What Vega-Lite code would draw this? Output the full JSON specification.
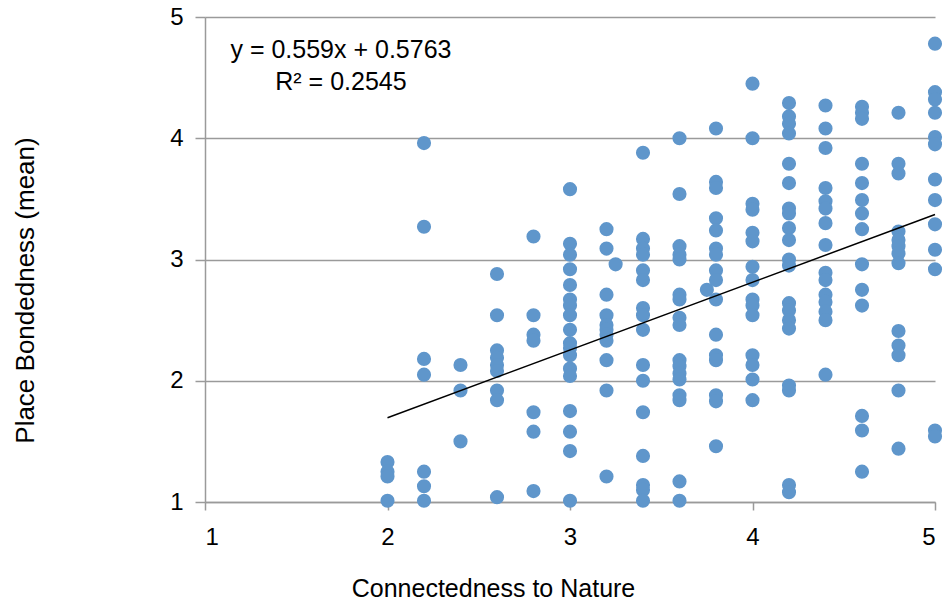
{
  "$schema": "https://vega.github.io/schema/vega-lite/v6.json",
  "width": 730,
  "height": 485,
  "autosize": "none",
  "padding": {"left": 205, "top": 17, "right": 9, "bottom": 102},
  "background": "white",
  "config": {
    "view": {"stroke": null},
    "font": "Liberation Sans"
  },
  "datasets": {
    "pts": [
      {"x":2,"y":1.33},{"x":2,"y":1.25},{"x":2,"y":1.21},{"x":2,"y":1.01},
      {"x":2.2,"y":3.96},{"x":2.2,"y":3.27},{"x":2.2,"y":2.18},{"x":2.2,"y":2.05},{"x":2.2,"y":1.25},{"x":2.2,"y":1.13},{"x":2.2,"y":1.01},
      {"x":2.4,"y":2.13},{"x":2.4,"y":1.92},{"x":2.4,"y":1.5},
      {"x":2.6,"y":2.88},{"x":2.6,"y":2.54},{"x":2.6,"y":2.25},{"x":2.6,"y":2.19},{"x":2.6,"y":2.13},{"x":2.6,"y":2.08},{"x":2.6,"y":1.92},{"x":2.6,"y":1.84},{"x":2.6,"y":1.04},
      {"x":2.8,"y":3.19},{"x":2.8,"y":2.54},{"x":2.8,"y":2.38},{"x":2.8,"y":2.33},{"x":2.8,"y":1.74},{"x":2.8,"y":1.58},{"x":2.8,"y":1.09},
      {"x":3,"y":3.58},{"x":3,"y":3.13},{"x":3,"y":3.04},{"x":3,"y":2.92},{"x":3,"y":2.79},{"x":3,"y":2.67},{"x":3,"y":2.62},{"x":3,"y":2.54},{"x":3,"y":2.42},{"x":3,"y":2.31},{"x":3,"y":2.27},{"x":3,"y":2.21},{"x":3,"y":2.1},{"x":3,"y":2.04},{"x":3,"y":1.75},{"x":3,"y":1.58},{"x":3,"y":1.42},{"x":3,"y":1.01},
      {"x":3.2,"y":3.25},{"x":3.2,"y":3.09},{"x":3.2,"y":2.71},{"x":3.2,"y":2.54},{"x":3.2,"y":2.46},{"x":3.2,"y":2.42},{"x":3.2,"y":2.38},{"x":3.2,"y":2.33},{"x":3.2,"y":2.17},{"x":3.2,"y":1.92},{"x":3.2,"y":1.21},
      {"x":3.25,"y":2.96},
      {"x":3.4,"y":3.88},{"x":3.4,"y":3.17},{"x":3.4,"y":3.09},{"x":3.4,"y":3.04},{"x":3.4,"y":2.91},{"x":3.4,"y":2.83},{"x":3.4,"y":2.6},{"x":3.4,"y":2.54},{"x":3.4,"y":2.42},{"x":3.4,"y":2.13},{"x":3.4,"y":2.0},{"x":3.4,"y":1.74},{"x":3.4,"y":1.38},{"x":3.4,"y":1.14},{"x":3.4,"y":1.1},{"x":3.4,"y":1.01},
      {"x":3.6,"y":4.0},{"x":3.6,"y":3.54},{"x":3.6,"y":3.11},{"x":3.6,"y":3.04},{"x":3.6,"y":3.0},{"x":3.6,"y":2.71},{"x":3.6,"y":2.67},{"x":3.6,"y":2.52},{"x":3.6,"y":2.46},{"x":3.6,"y":2.17},{"x":3.6,"y":2.12},{"x":3.6,"y":2.06},{"x":3.6,"y":2.01},{"x":3.6,"y":1.88},{"x":3.6,"y":1.84},{"x":3.6,"y":1.17},{"x":3.6,"y":1.01},
      {"x":3.75,"y":2.75},
      {"x":3.8,"y":4.08},{"x":3.8,"y":3.64},{"x":3.8,"y":3.59},{"x":3.8,"y":3.34},{"x":3.8,"y":3.24},{"x":3.8,"y":3.09},{"x":3.8,"y":3.04},{"x":3.8,"y":2.91},{"x":3.8,"y":2.83},{"x":3.8,"y":2.67},{"x":3.8,"y":2.38},{"x":3.8,"y":2.21},{"x":3.8,"y":2.17},{"x":3.8,"y":1.88},{"x":3.8,"y":1.83},{"x":3.8,"y":1.46},
      {"x":4,"y":4.45},{"x":4,"y":4.0},{"x":4,"y":3.46},{"x":4,"y":3.41},{"x":4,"y":3.22},{"x":4,"y":3.15},{"x":4,"y":2.94},{"x":4,"y":2.83},{"x":4,"y":2.67},{"x":4,"y":2.62},{"x":4,"y":2.54},{"x":4,"y":2.21},{"x":4,"y":2.13},{"x":4,"y":2.01},{"x":4,"y":1.84},
      {"x":4.2,"y":4.29},{"x":4.2,"y":4.18},{"x":4.2,"y":4.12},{"x":4.2,"y":4.04},{"x":4.2,"y":3.79},{"x":4.2,"y":3.63},{"x":4.2,"y":3.42},{"x":4.2,"y":3.38},{"x":4.2,"y":3.26},{"x":4.2,"y":3.16},{"x":4.2,"y":3.0},{"x":4.2,"y":2.95},{"x":4.2,"y":2.64},{"x":4.2,"y":2.58},{"x":4.2,"y":2.5},{"x":4.2,"y":2.43},{"x":4.2,"y":1.96},{"x":4.2,"y":1.92},{"x":4.2,"y":1.14},{"x":4.2,"y":1.08},
      {"x":4.4,"y":4.27},{"x":4.4,"y":4.08},{"x":4.4,"y":3.92},{"x":4.4,"y":3.59},{"x":4.4,"y":3.48},{"x":4.4,"y":3.42},{"x":4.4,"y":3.3},{"x":4.4,"y":3.12},{"x":4.4,"y":2.89},{"x":4.4,"y":2.83},{"x":4.4,"y":2.71},{"x":4.4,"y":2.65},{"x":4.4,"y":2.57},{"x":4.4,"y":2.5},{"x":4.4,"y":2.05},
      {"x":4.6,"y":4.26},{"x":4.6,"y":4.21},{"x":4.6,"y":4.16},{"x":4.6,"y":3.79},{"x":4.6,"y":3.63},{"x":4.6,"y":3.49},{"x":4.6,"y":3.38},{"x":4.6,"y":3.25},{"x":4.6,"y":2.96},{"x":4.6,"y":2.75},{"x":4.6,"y":2.62},{"x":4.6,"y":1.71},{"x":4.6,"y":1.59},{"x":4.6,"y":1.25},
      {"x":4.8,"y":4.21},{"x":4.8,"y":3.79},{"x":4.8,"y":3.71},{"x":4.8,"y":3.23},{"x":4.8,"y":3.16},{"x":4.8,"y":3.11},{"x":4.8,"y":3.05},{"x":4.8,"y":2.97},{"x":4.8,"y":2.41},{"x":4.8,"y":2.29},{"x":4.8,"y":2.21},{"x":4.8,"y":1.92},{"x":4.8,"y":1.44},
      {"x":5,"y":4.78},{"x":5,"y":4.38},{"x":5,"y":4.32},{"x":5,"y":4.21},{"x":5,"y":4.01},{"x":5,"y":3.95},{"x":5,"y":3.66},{"x":5,"y":3.49},{"x":5,"y":3.29},{"x":5,"y":3.08},{"x":5,"y":2.92},{"x":5,"y":1.59},{"x":5,"y":1.54}
    ],
    "fit": [{"x":2,"y":1.6943},{"x":5,"y":3.3713}],
    "eq": [{"x":1.745,"y":4.73,"label":"y = 0.559x + 0.5763"},{"x":1.745,"y":4.465,"label":"R² = 0.2545"}]
  },
  "encoding": {
    "x": {"field":"x","type":"quantitative","scale":{"domain":[1,5],"nice":false,"zero":false},
      "axis":{"title":"Connectedness to Nature","values":[1,2,3,4,5],"grid":false,"domainColor":"#9a9a9a","domainWidth":1.5,"tickColor":"#9a9a9a","tickSize":8,"tickWidth":1.5,"labelFontSize":24,"labelColor":"#000","labelPadding":15,"titleFontSize":25,"titleFontWeight":"normal","titleColor":"#000","titleX":288,"titleY":86,"titleBaseline":"middle","titleAnchor":null}},
    "y": {"field":"y","type":"quantitative","scale":{"domain":[1,5],"nice":false,"zero":false},
      "axis":{"title":"Place Bondedness (mean)","values":[1,2,3,4,5],"grid":true,"gridColor":"#9a9a9a","gridWidth":1.5,"domainColor":"#9a9a9a","domainWidth":1.5,"tickColor":"#9a9a9a","tickSize":10,"tickWidth":1.5,"labelFontSize":24,"labelColor":"#000","labelPadding":12,"titleFontSize":26,"titleFontWeight":"normal","titleColor":"#000","titleX":-180,"titleY":273,"titleAngle":-90,"titleAlign":"center","titleBaseline":"middle"}}
  },
  "layer": [
    {"data":{"name":"pts"},"mark":{"type":"circle","size":200,"color":"#5F96CB","opacity":1}},
    {"data":{"name":"fit"},"mark":{"type":"line","color":"#000","strokeWidth":1.5}},
    {"data":{"name":"eq"},"mark":{"type":"text","fontSize":25,"align":"center","baseline":"middle","color":"#000"},"encoding":{"text":{"field":"label"}}}
  ]
}
